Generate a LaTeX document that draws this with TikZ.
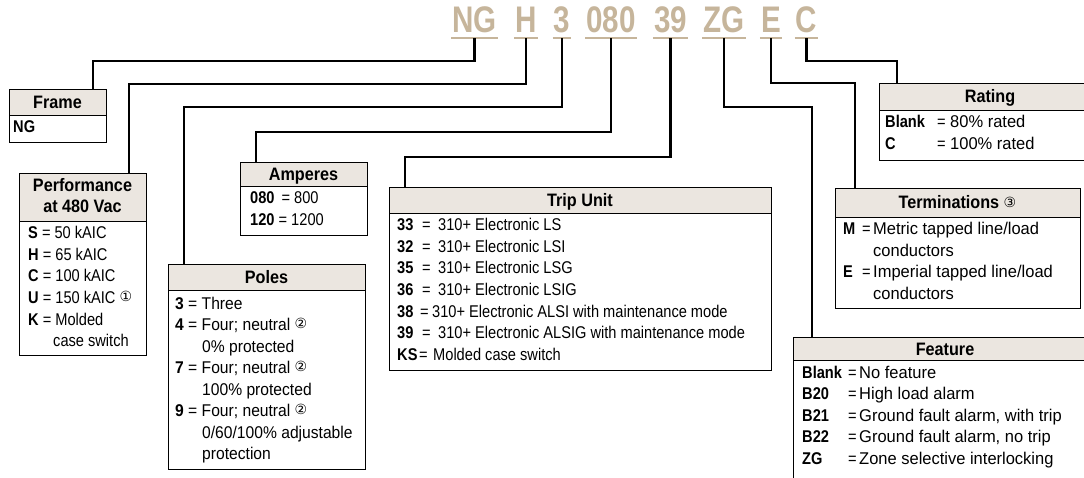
\documentclass[tikz,border=0pt]{standalone}
\usepackage{fontspec}
\setmainfont{Liberation Sans}[FakeStretch=0.86]
\newfontfamily\headfont{Liberation Sans}[FakeStretch=0.9]
\newfontfamily\codefont{Liberation Sans}[FakeStretch=0.8]
\newfontfamily\polefont{Liberation Sans}[FakeStretch=0.92]
\newfontfamily\widefont{Liberation Sans}[FakeStretch=0.97]
\newfontfamily\symfont{DejaVu Sans}
\definecolor{codetan}{HTML}{C6B59B}
\definecolor{hdrfill}{HTML}{EBE6E0}
\newcommand{\circn}[1]{\raisebox{1.6pt}{\mdseries\symfont\fontsize{14}{14}\selectfont #1}}
\newcommand{\kvrow}[4]{\makebox[#1pt][l]{\rmfamily\bfseries #2}\makebox[#3pt][l]{\rmfamily =}#4}
\tikzset{
  conn/.style={line width=2.3pt, line join=miter},
  uline/.style={line width=2.3pt, draw=codetan},
  boxframe/.style={draw, line width=1pt, inner sep=0pt, anchor=north west},
  hdrbox/.style={draw, fill=hdrfill, line width=1pt, inner sep=0pt, anchor=north west},
  htext/.style={font=\headfont\fontsize{18}{20}\selectfont\bfseries, anchor=base, inner sep=0pt},
  btext/.style={font=\fontsize{17}{19}\selectfont, anchor=base west, inner sep=0pt},
  ptext/.style={font=\polefont\fontsize{17}{19}\selectfont, anchor=base west, inner sep=0pt},
  wtext/.style={font=\widefont\fontsize{17}{19}\selectfont, anchor=base west, inner sep=0pt},
  codetxt/.style={font=\codefont\fontsize{37}{40}\selectfont\bfseries, text=codetan, anchor=base, inner xsep=1pt, inner ysep=0pt, text depth=5pt},
}
\begin{document}
\begin{tikzpicture}[x=1pt,y=-1pt]
\useasboundingbox (0,0) rectangle (1084,478);
% ---------- code ----------
\node[codetxt] (cNG) at (474.5,33) {NG};
\node[codetxt] (cH) at (526,33) {H};
\node[codetxt] (c3) at (562,33) {3};
\node[codetxt] (c080) at (611,33) {080};
\node[codetxt] (c39) at (670.5,33) {39};
\node[codetxt] (cZG) at (724,33) {ZG};
\node[codetxt] (cE) at (771,33) {E};
\node[codetxt] (cC) at (806.5,33) {C};
\foreach \n in {cNG,cH,c3,c080,c39,cZG,cE,cC}
  \draw[uline] (\n.south west) -- (\n.south east);
% ---------- boxes ----------
\node[hdrbox, minimum width=97, minimum height=26] (frameH) at (9,89) {};
\node[boxframe, minimum width=97, minimum height=53] (frame) at (9,89) {};
\node[hdrbox, minimum width=127, minimum height=48] (perfH) at (19,173) {};
\node[boxframe, minimum width=127, minimum height=182] (perf) at (19,173) {};
\node[hdrbox, minimum width=127, minimum height=24] (ampH) at (240,162) {};
\node[boxframe, minimum width=127, minimum height=73] (amp) at (240,162) {};
\node[hdrbox, minimum width=197, minimum height=26] (polesH) at (168,264) {};
\node[boxframe, minimum width=197, minimum height=205] (poles) at (168,264) {};
\node[hdrbox, minimum width=382, minimum height=26] (tripH) at (389,187) {};
\node[boxframe, minimum width=382, minimum height=183] (trip) at (389,187) {};
\node[hdrbox, minimum width=222, minimum height=27] (rateH) at (879,83) {};
\node[boxframe, minimum width=222, minimum height=77] (rate) at (879,83) {};
\node[hdrbox, minimum width=245, minimum height=29] (termH) at (835,188) {};
\node[boxframe, minimum width=245, minimum height=120] (term) at (835,188) {};
\node[hdrbox, minimum width=304, minimum height=23] (featH) at (793,337) {};
\node[boxframe, minimum width=304, minimum height=160] (feat) at (793,337) {};
% ---------- connectors ----------
\coordinate (kNG) at (93,61);
\coordinate (kH) at (129,84);
\coordinate (k3) at (184,107);
\coordinate (k080) at (256,132);
\coordinate (k39) at (405,157);
\coordinate (kZG) at (812,107);
\coordinate (kE) at (855,83);
\coordinate (kC) at (897,61);
\draw[conn] (cNG.south) |- (kNG) -- (kNG |- frame.north);
\draw[conn] (cH.south) |- (kH) -- (kH |- perf.north);
\draw[conn] (c3.south) |- (k3) -- (k3 |- poles.north);
\draw[conn] (c080.south) |- (k080) -- (k080 |- amp.north);
\draw[conn] (c39.south) |- (k39) -- (k39 |- trip.north);
\draw[conn] (cZG.south) |- (kZG) -- (kZG |- feat.north);
\draw[conn] (cE.south) |- (kE) -- (kE |- term.north);
\draw[conn] (cC.south) |- (kC) -- (kC |- rate.north);
% ---------- Frame ----------
\node[htext] (frameT) at (57.5,108.5) {Frame};
\node[btext] (frameB) at (13,133) {\textbf{NG}};
% ---------- Performance ----------
\node[htext] (perfT1) at (82.5,192) {Performance};
\node[htext] (perfT2) at (82.5,213) {at 480 Vac};
\node[btext] (perf1) at (28,239) {\textbf{S} = 50 kAIC};
\node[btext] (perf2) at (28,260.5) {\textbf{H} = 65 kAIC};
\node[btext] (perf3) at (28,282) {\textbf{C} = 100 kAIC};
\node[btext] (perf4) at (28,303.5) {\textbf{U} = 150 kAIC \circn{①}};
\node[btext] (perf5) at (28,325) {\textbf{K} = Molded};
\node[btext] (perf6) at (53,346.5) {case switch};
% ---------- Amperes ----------
\node[htext] (ampT) at (303.5,180.5) {Amperes};
\node[btext] (amp1) at (250,204) {\textbf{080}\hspace{7pt}= 800};
\node[btext] (amp2) at (250,225.5) {\textbf{120} = 1200};
% ---------- Poles ----------
\node[htext] (polesT) at (266.5,283.5) {Poles};
\node[ptext] (pol1) at (175,309) {\textbf{3} = Three};
\node[ptext] (pol2) at (175,330.5) {\textbf{4} = Four; neutral \circn{②}};
\node[ptext] (pol3) at (202,352) {0\% protected};
\node[ptext] (pol4) at (175,373.5) {\textbf{7} = Four; neutral \circn{②}};
\node[ptext] (pol5) at (202,395) {100\% protected};
\node[ptext] (pol6) at (175,416.5) {\textbf{9} = Four; neutral \circn{②}};
\node[ptext] (pol7) at (202,438) {0/60/100\% adjustable};
\node[ptext] (pol8) at (202,459.5) {protection};
% ---------- Trip Unit ----------
\node[htext] (tripT) at (580,206.5) {Trip Unit};
\node[btext] (trip1) at (397,231) {\kvrow{25}{33}{16}{310+ Electronic LS}};
\node[btext] (trip2) at (397,252.5) {\kvrow{25}{32}{16}{310+ Electronic LSI}};
\node[btext] (trip3) at (397,274) {\kvrow{25}{35}{16}{310+ Electronic LSG}};
\node[btext] (trip4) at (397,295.5) {\kvrow{25}{36}{16}{310+ Electronic LSIG}};
\node[btext] (trip5) at (397,317) {\kvrow{23}{38}{12}{310+ Electronic ALSI with maintenance mode}};
\node[btext] (trip6) at (397,338.5) {\kvrow{25}{39}{16}{310+ Electronic ALSIG with maintenance mode}};
\node[btext] (trip7) at (397,360) {\kvrow{22}{KS}{14}{Molded case switch}};
% ---------- Rating ----------
\node[htext] (rateT) at (990,103) {Rating};
\node[wtext] (rate1) at (885,128) {\kvrow{52}{Blank}{13}{80\% rated}};
\node[wtext] (rate2) at (885,149.5) {\kvrow{52}{C}{13}{100\% rated}};
% ---------- Terminations ----------
\node[htext] (termT) at (957.5,209) {Terminations \circn{③}};
\node[wtext] (term1) at (843,235) {\kvrow{19}{M}{11}{Metric tapped line/load}};
\node[wtext] (term2) at (873,256.5) {conductors};
\node[wtext] (term3) at (843,278) {\kvrow{19}{E}{11}{Imperial tapped line/load}};
\node[wtext] (term4) at (873,299.5) {conductors};
% ---------- Feature ----------
\node[htext] (featT) at (945,355) {Feature};
\node[wtext] (feat1) at (802,378) {\kvrow{46}{Blank}{11}{No feature}};
\node[wtext] (feat2) at (802,399.5) {\kvrow{46}{B20}{11}{High load alarm}};
\node[wtext] (feat3) at (802,421) {\kvrow{46}{B21}{11}{Ground fault alarm, with trip}};
\node[wtext] (feat4) at (802,442.5) {\kvrow{46}{B22}{11}{Ground fault alarm, no trip}};
\node[wtext] (feat5) at (802,464) {\kvrow{46}{ZG}{11}{Zone selective interlocking}};
\end{tikzpicture}
\end{document}
